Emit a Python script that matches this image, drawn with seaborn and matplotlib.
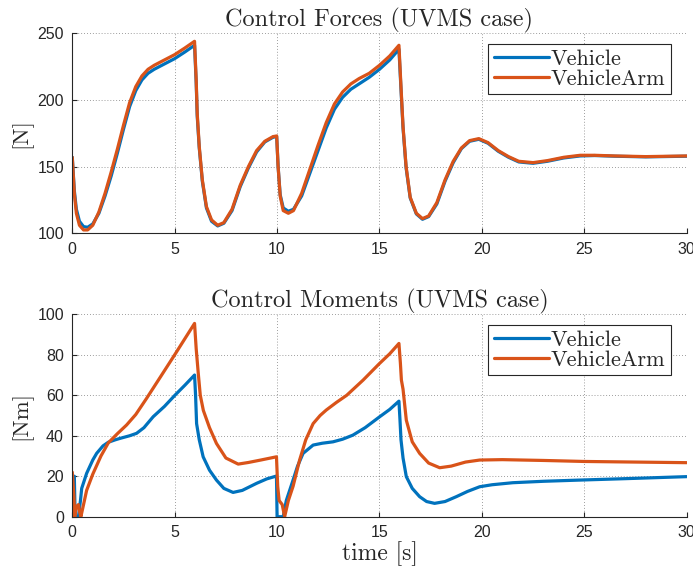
import pandas as pd
import matplotlib.pyplot as plt
import seaborn as sns

# ---- data ----
force_t_arm = [0.0, 0.1, 0.2, 0.35, 0.55, 0.75, 1.0, 1.3, 1.6, 1.9, 2.2, 2.5, 2.8, 3.1, 3.4, 3.7, 4.0, 4.5,
               5.0, 5.5, 5.97, 6.05, 6.1, 6.2, 6.35, 6.55, 6.8, 7.1, 7.4, 7.8, 8.2, 8.6, 9.0, 9.4, 9.8, 9.98,
               10.05, 10.15, 10.3, 10.55, 10.8, 11.2, 11.6, 12.0, 12.4, 12.8, 13.2, 13.6, 14.0, 14.5, 15.0,
               15.5, 15.95, 16.05, 16.15, 16.3, 16.5, 16.8, 17.1, 17.4, 17.8, 18.2, 18.6, 19.0, 19.4, 19.85,
               20.3, 20.8, 21.3, 21.8, 22.5, 23.2, 24.0, 24.8, 25.5, 26.5, 28.0, 30.0]
force_arm = [157, 130, 115, 106, 102.5, 102.5, 106, 116, 130, 146, 163, 181, 198, 210, 218, 223, 226, 230,
             234, 239, 244, 215, 190, 165, 140, 120, 110, 106, 108, 118, 136, 150, 162, 169, 172.5, 173,
             150, 128, 117, 115, 117, 130, 148, 166, 183, 197, 206, 212, 216, 220, 226,
             233, 241, 210, 180, 150, 127, 115, 111, 113, 123, 140, 154, 164, 169.5, 171,
             168, 162, 157.5, 154, 153, 154.5, 157, 158.5, 158.5, 158, 157.5, 158]
force_veh = [157, 132, 118, 109, 105, 104.5, 107, 115, 128, 143, 160, 178, 195, 207, 215, 220, 223, 227,
             231, 236, 241, 213, 188, 164, 139, 119, 109, 105.5, 107.5, 117, 135, 149, 161, 168.5, 172, 172.5,
             150, 129, 119, 116.5, 118, 128, 145, 162, 179, 193, 202, 208, 212, 217, 223,
             230, 238, 208, 179, 149, 126.5, 114.5, 110.5, 112.5, 122, 139, 153, 163.5, 169, 170.5,
             167.5, 161.5, 157, 153.5, 152.5, 154, 156.5, 158, 158.3, 157.8, 157.3, 157.8]

mom_t_arm = [0.0, 0.08, 0.12, 0.2, 0.3, 0.37, 0.42, 0.55, 0.7, 1.0, 1.4, 1.76, 2.2, 2.65, 3.1, 3.63, 4.3,
             5.0, 5.5, 5.97, 6.05, 6.15, 6.25, 6.4, 6.7, 7.04, 7.5, 8.1, 8.6, 9.2, 9.97, 10.03, 10.1, 10.25,
             10.37, 10.55, 10.78, 11.1, 11.4, 11.76, 12.1, 12.4, 12.9, 13.4, 14.2, 15.0, 15.5, 15.95, 16.02,
             16.07, 16.15, 16.31, 16.6, 16.96, 17.4, 17.94, 18.5, 19.2, 19.89, 21.0, 23.0, 25.0, 27.5, 30.0]
mom_arm = [22, 10, 0, 5, 6, 2, 0, 6, 13, 21, 30, 36.5, 41, 45.3, 50.5, 58.5, 69,
           80, 88, 95.5, 83, 71, 60, 52.5, 44, 36.2, 29, 26, 26.8, 28, 29.6, 15, 8, 6,
           0, 8, 15, 28, 38, 46, 50, 52.7, 56.5, 60, 67.5, 75.7, 80.5, 85.6, 76,
           67.5, 63, 47.7, 37, 31.3, 26.5, 24.2, 25, 27, 28, 28.2, 27.8, 27.3, 27, 26.7]

mom_t_veh = [0.0, 0.1, 0.14, 0.3, 0.4, 0.46, 0.7, 1.0, 1.19, 1.5, 1.76, 2.1, 2.33, 2.8, 3.14, 3.5, 3.95,
             4.5, 5.01, 5.5, 5.97, 6.02, 6.07, 6.2, 6.39, 6.7, 7.04, 7.4, 7.85, 8.3, 9.0, 9.5, 9.97, 10.0,
             10.3, 10.45, 10.78, 11.0, 11.27, 11.76, 12.2, 12.73, 13.2, 13.7, 14.3, 15.01, 15.5, 15.95,
             16.0, 16.05, 16.15, 16.31, 16.6, 16.96, 17.3, 17.69, 18.2, 18.75, 19.3, 19.89, 20.5, 21.51,
             23.0, 24.77, 27.0, 30.0]
mom_veh = [20, 20, 0, 0, 8, 14, 21.4, 28, 31.3, 35, 36.8, 38, 38.7, 40, 41.2, 44, 49.4,
           54.5, 60, 65, 70, 60, 46, 38, 29.6, 23, 18.1, 14, 12, 13, 16.5, 18.7, 20.1, 0,
           0, 8, 18.1, 25, 31.3, 35.4, 36.3, 37, 38.3, 40.3, 44, 49.4, 53, 57.1,
           48, 38, 29, 19.8, 14, 9.9, 7.5, 6.6, 7.5, 9.9, 12.5, 14.8, 15.8, 16.8,
           17.5, 18.1, 18.8, 19.8]

series_names = ["Vehicle", "VehicleArm"]
x_ticks = [0, 5, 10, 15, 20, 25, 30]
force_ticks = [100, 150, 200, 250]
moment_ticks = [0, 20, 40, 60, 80, 100]

# ---- style ----
sns.set_theme(style="white")
plt.rcParams.update({
    "font.family": ["Liberation Sans", "DejaVu Sans"],
    "xtick.direction": "in",
    "ytick.direction": "in",
    "xtick.major.size": 3.5,
    "ytick.major.size": 3.5,
    "xtick.bottom": True,
    "ytick.left": True,
})
serif = ["cmr10", "DejaVu Serif"]
colors = ["#0072BD", "#D95319"]


def long_frame(t_veh, y_veh, t_arm, y_arm):
    a = pd.DataFrame({"t": t_veh, "y": y_veh, "series": series_names[0]})
    b = pd.DataFrame({"t": t_arm, "y": y_arm, "series": series_names[1]})
    return pd.concat([a, b], ignore_index=True)


df_force = long_frame(force_t_arm, force_veh, force_t_arm, force_arm)
df_mom = long_frame(mom_t_veh, mom_veh, mom_t_arm, mom_arm)

fig = plt.figure(figsize=(6.93, 5.74), dpi=100)
ax1 = fig.add_axes([0.1043, 0.5936, 0.8866, 0.3484])
ax2 = fig.add_axes([0.1043, 0.0998, 0.8866, 0.3526])

panels = [
    (ax1, df_force, "Control Forces (UVMS case)", "[N]", (100, 250), force_ticks),
    (ax2, df_mom, "Control Moments (UVMS case)", "[Nm]", (0, 100), moment_ticks),
]

for ax, df, title, ylab, ylim, yticks in panels:
    sns.lineplot(data=df, x="t", y="y", hue="series", palette=colors,
                 linewidth=2.3, ax=ax, sort=False, estimator=None)
    ax.set_xlim(0, 30)
    ax.set_ylim(*ylim)
    ax.set_xticks(x_ticks)
    ax.set_yticks(yticks)
    ax.grid(True, linestyle=(0, (1, 2.5)), color="#262626", linewidth=0.6, alpha=0.6)
    for s in ["top", "right"]:
        ax.spines[s].set_visible(False)
    for s in ["left", "bottom"]:
        ax.spines[s].set_color("#262626")
        ax.spines[s].set_linewidth(0.8)
    ax.tick_params(labelsize=11.5, colors="#262626", width=0.8, pad=6)
    ax.set_title(title, fontsize=17.5, family=serif, pad=4)
    ax.set_ylabel(ylab, fontsize=16.5, family=serif, labelpad=4)
    ax.set_xlabel("")
    leg = ax.legend(loc="upper right", bbox_to_anchor=(0.974, 0.947), borderaxespad=0,
                    prop={"family": serif, "size": 16}, frameon=True, fancybox=False,
                    framealpha=1, edgecolor="#262626", handlelength=2.5, handletextpad=0.05,
                    labelspacing=0.0, borderpad=0.25)
    leg.get_frame().set_linewidth(0.8)

ax2.set_xlabel("time [s]", fontsize=17, family=serif, labelpad=1)

fig.savefig("out.png", dpi=100)
